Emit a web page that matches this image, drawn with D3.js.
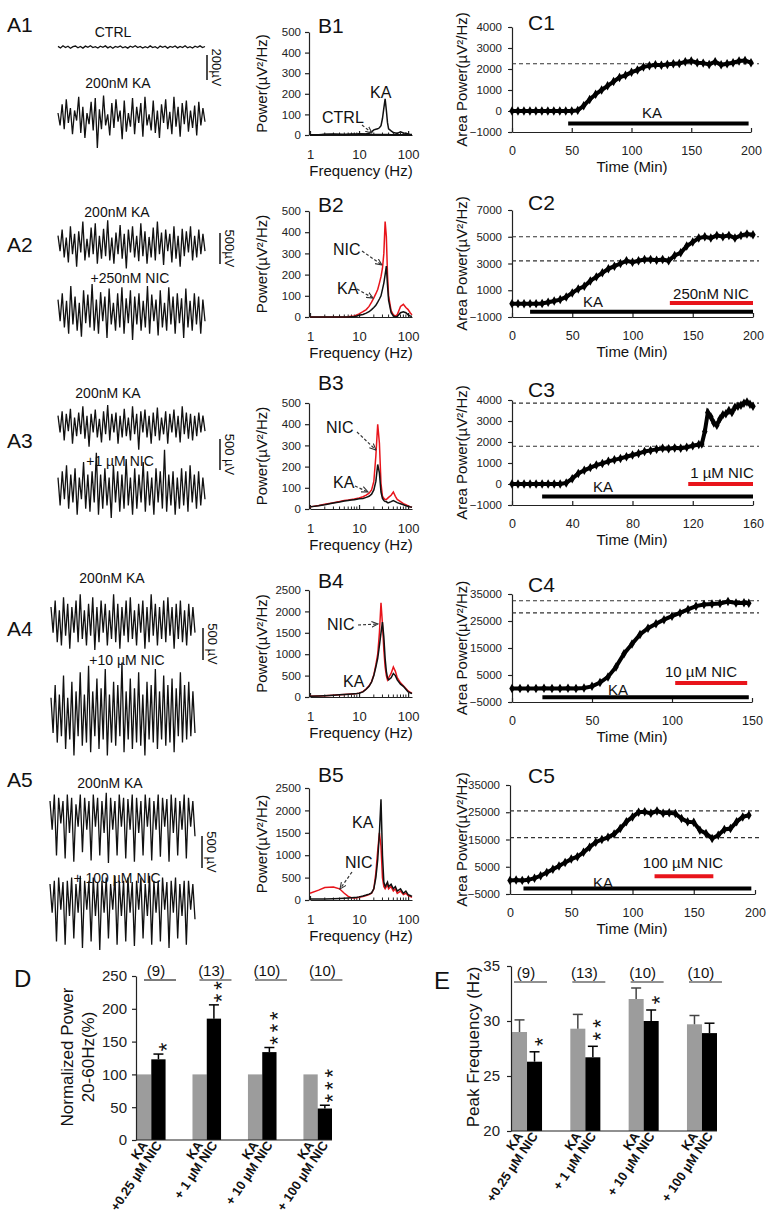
<!DOCTYPE html>
<html>
<head>
<meta charset="utf-8">
<script src="https://cdn.jsdelivr.net/npm/d3@7/dist/d3.min.js"></script>
<style>
body { margin: 0; background: #fff; }
svg { font-family: "Liberation Sans", Arial, sans-serif; }
</style>
</head>
<body>
<div id="chart"></div>
<script>
//------------------------- DATA -------------------------\\
// A: raw field potential traces (µV)
var traceA1Ctrl = [5,-8,10,-4,6,-10,3,8,-6,4,-9,7,-3,10,-5,2,-8,6,-2,9,-7,4,-10,5,-3,8,-6,3,-9,6,-2,10,-4,5,-8,3,-6,9,-5,2,-10,7,-3,6,-9,4,-2,8,-7,5,-4,10,-6,3,-8,6,-2,9,-5,4];
var traceA1Ka = [40,-60,110,-90,150,-40,80,-130,60,-20,170,-120,90,-160,40,-50,130,-100,160,-240,70,-90,180,-60,30,-140,120,-80,150,-30,60,-170,140,-110,40,-70,160,-130,90,-40,120,-150,170,-60,30,-100,140,-120,60,-160,110,-40,150,-90,50,-130,170,-70,90,-150,120,-50,140,-110,60,-80,100,-140,130,-60,80,-30];
var traceA2Ka = [150,-100,250,-200,120,-280,300,-150,180,-350,220,-120,380,-250,100,-200,280,-150,350,-300,150,-220,260,-180,400,-250,120,-300,200,-150,320,-220,180,-380,250,-120,300,-200,150,-260,350,-180,220,-300,130,-200,280,-250,380,-150,200,-320,250,-100,180,-280,300,-220,150,-350,260,-180,220,-120,300,-250,150,-200,250,-150,180,-100];
var traceA2Nic = [200,-150,300,-250,180,-350,420,-200,250,-300,150,-400,350,-180,280,-250,450,-300,200,-350,320,-150,250,-420,380,-200,150,-300,300,-250,400,-350,220,-180,350,-450,250,-200,300,-300,180,-250,420,-350,280,-150,200,-380,350,-250,150,-300,400,-200,250,-350,300,-180,220,-420,380,-250,180,-300,300,-200,250,-350,200,-150];
var traceA3Ka = [150,-120,220,-250,180,-100,260,-300,120,-180,200,-150,300,-220,150,-350,180,-120,250,-200,100,-280,220,-150,320,-250,180,-120,200,-300,150,-200,260,-180,120,-250,300,-150,180,-400,220,-120,250,-200,150,-300,200,-180,280,-250,120,-150,220,-300,180,-120,250,-200,150,-280,300,-150,200,-220,180,-250,150,-180,200,-120,150,-100];
var traceA3Nic = [200,-250,300,-150,400,-300,250,-200,350,-400,200,-150,450,-300,250,-350,300,-200,600,-400,250,-300,350,-250,200,-450,400,-200,300,-350,250,-300,500,-250,200,-400,350,-300,250,-200,450,-350,300,-250,200,-400,350,-200,300,-300,650,-350,250,-250,300,-400,200,-300,350,-250,300,-350,400,-200,250,-300,300,-250,200,-150];
var traceA4Ka = [250,-150,350,-300,200,-350,400,-200,300,-400,250,-150,350,-300,450,-250,200,-350,300,-200,400,-420,250,-300,350,-150,300,-350,200,-250,450,-300,300,-400,250,-200,350,-300,400,-250,200,-350,300,-150,350,-400,250,-300,450,-200,300,-350,250,-250,350,-300,400,-200,250,-400,300,-250,350,-300,200,-350,300,-200,250,-150];
var traceA4Nic = [300,-250,500,-400,350,-300,650,-500,300,-350,550,-600,400,-300,700,-450,350,-400,800,-550,400,-300,600,-500,450,-350,750,-600,350,-400,550,-450,500,-300,850,-550,400,-350,600,-500,450,-400,700,-450,350,-600,550,-350,500,-400,750,-500,400,-350,650,-450,500,-400,600,-550,450,-300,700,-400,500,-350,550,-300,400,-250];
var traceA5Ka = [250,-200,350,-600,300,-100,250,-650,350,-250,300,-700,200,-150,350,-550,300,-200,250,-680,350,-150,300,-600,250,-250,380,-720,300,-200,250,-600,350,-150,300,-650,280,-200,350,-700,300,-250,250,-600,350,-150,300,-680,250,-200,350,-620,300,-150,280,-700,350,-250,300,-600,250,-200,350,-650,300,-150,250,-300];
var traceA5Nic = [250,-200,300,-650,350,-150,280,-700,300,-250,350,-600,250,-200,380,-750,300,-150,300,-650,350,-250,280,-780,300,-200,350,-600,250,-150,380,-700,300,-250,300,-650,350,-200,280,-720,300,-150,350,-600,250,-250,380,-700,300,-200,300,-650,350,-150,280,-750,300,-200,350,-600,250,-250,300,-700,300,-150,250,-300];

// B: power spectra (µV²/Hz) on a shared frequency grid (Hz)
var specFreq  = [1,1.5,2,3,4,5,6,7,8,9,10,12,14,16,18,20,22,24,26,28,30,32,34,36,38,40,45,50,55,60,70,80,90,100,110,120];
var specB1Ctrl= [0,0,3,4,3,2,3,4,4,3,5,4,3,3,2,2,2,2,2,2,2,2,2,2,2,2,1,1,1,1,1,1,1,1,1,1];
var specB1Ka  = [0,0,2,3,2,3,2,3,3,4,4,5,6,8,15,25,28,30,35,45,80,130,175,120,60,30,20,12,10,8,15,10,8,5,3,2];
var specB2Ka  = [0,0,0,0,0,0,0,1,2,5,8,12,18,25,35,45,55,70,85,100,130,160,200,240,150,80,20,5,0,2,20,25,20,10,5,3];
var specB2Nic = [0,0,0,0,0,0,1,3,5,10,15,25,35,50,70,90,110,130,160,190,230,300,450,380,200,100,30,10,5,10,50,60,45,35,20,10];
var specB3Ka  = [10,15,20,28,33,38,40,42,44,46,48,50,55,60,70,90,130,210,170,80,50,40,35,35,30,30,35,40,35,30,25,20,15,12,10,8];
var specB3Nic = [10,16,22,30,35,40,42,45,47,50,52,58,65,75,90,130,250,400,310,120,60,50,45,45,50,55,65,80,60,45,35,25,20,15,10,8];
var specB4Ka  = [20,25,30,40,50,60,65,70,75,80,90,120,180,250,350,500,700,900,1200,1500,1750,1400,900,600,450,400,450,550,500,400,300,250,180,120,100,80];
var specB4Nic = [20,25,30,40,50,60,65,70,75,80,90,125,190,260,360,520,750,1000,1500,2200,1700,1100,700,500,400,450,550,700,600,450,330,260,200,140,110,90];
var specB5Ka  = [20,20,25,30,35,40,45,50,55,60,70,90,110,130,160,250,500,900,1500,2250,1000,400,300,350,400,300,350,250,300,200,250,150,200,120,100,80];
var specB5Nic = [150,220,280,290,250,150,80,50,45,50,60,80,100,120,150,250,600,1100,1500,1200,500,300,250,300,350,250,300,200,250,150,200,120,150,100,80,60];

// C: area power (µV²/Hz) against time (min)
var c1Time  = [0,5,10,15,20,25,30,35,40,45,50,55,60,65,70,75,80,85,90,95,100,105,110,115,120,125,130,135,140,145,150,155,160,165,170,175,180,185,190,195,200];
var c1Power = [0,0,0,0,0,0,0,0,0,0,0,30,250,550,800,1000,1200,1400,1600,1700,1850,1950,2100,2150,2200,2180,2220,2250,2260,2350,2380,2300,2280,2220,2350,2200,2250,2300,2380,2400,2300];
var c2Time  = c1Time;
var c2Power = [0,0,-10,0,0,10,100,200,300,500,800,1100,1300,1700,2000,2300,2600,2800,3000,3200,3100,3200,3300,3300,3250,3300,3200,3600,3800,4300,4600,4900,5000,4900,5100,5000,5100,4900,5100,5200,5150];
var c3Time  = [0,4,8,12,16,20,24,28,32,36,40,44,48,52,56,60,64,68,72,76,80,84,88,92,96,100,104,108,112,116,120,124,126,128,130,132,134,136,138,140,142,144,146,148,150,152,154,156,158,160];
var c3Power = [0,0,0,0,0,0,0,0,0,50,250,500,650,780,900,980,1080,1150,1220,1300,1380,1450,1550,1600,1650,1700,1680,1720,1700,1750,1820,1880,1900,2500,3400,3200,2900,2800,3100,3300,3350,3500,3400,3650,3700,3750,3850,3900,3800,3700];
var c4Time  = [0,5,10,15,20,25,30,35,40,45,50,55,60,65,70,75,80,85,90,95,100,105,110,115,120,125,130,135,140,145,148];
var c4Power = [0,0,0,0,100,0,0,100,0,200,800,2200,4300,8000,12900,16500,20000,22300,24000,25500,26800,28000,29300,30500,31100,31300,31500,32200,31700,31800,31600];
var c5Time  = [0,5,10,15,20,25,30,35,40,45,50,55,60,65,70,75,80,85,90,95,100,105,110,115,120,125,130,135,140,145,150,155,160,165,170,175,180,185,190,195];
var c5Power = [0,100,0,200,800,1700,2900,4100,5300,6600,7800,8700,10300,12200,14000,15000,15800,17000,19000,21500,23300,25000,25200,24600,25500,24600,24800,24500,22700,21500,21300,18400,17200,15400,16600,18700,19000,21500,23300,23900];
// reference levels (dashed) and drug application bars [start, end, level]
var c1Levels = [2250],         c1KaBar = [47,198,-600],   c1NicBar = null;
var c2Levels = [5000,3200],    c2KaBar = [15,200,-600],   c2NicBar = [131,200,50];
var c3Levels = [3850,1800],    c3KaBar = [20,160,-600],   c3NicBar = [117,160,0];
var c4Levels = [32500,28000],  c4KaBar = [19,148,-3200],  c4NicBar = [102,147,2000];
var c5Levels = [25500,15700],  c5KaBar = [11,197,-3000],  c5NicBar = [118,166,1500];

// D, E: summary bars
var groups      = ["+0.25 µM NIC", "+ 1 µM NIC", "+ 10 µM NIC", "+ 100 µM NIC"];
var groupN      = ["(9)", "(13)", "(10)", "(10)"];
var powerKa     = [100, 100, 100, 100];
var powerNic    = [123, 185, 134, 48];
var powerNicErr = [8, 21, 7, 5];
var powerStars  = ["*", "**", "***", "***"];
var freqKa      = [29.0, 29.3, 32.0, 29.7];
var freqKaErr   = [1.1, 1.3, 1.0, 0.8];
var freqNic     = [26.3, 26.7, 30.0, 28.9];
var freqNicErr  = [0.9, 1.0, 1.0, 0.9];
var freqStars   = ["*", "**", "*", ""];

var RED = "#e8141b";

var svg = d3.select("#chart")
    .append("svg")
    .attr("width", 771)
    .attr("height", 1225);

var defs = svg.append("defs");
defs.append("marker")
    .attr("id", "arrow")
    .attr("viewBox", "0 0 10 10")
    .attr("refX", 9).attr("refY", 5)
    .attr("markerWidth", 6).attr("markerHeight", 6)
    .attr("orient", "auto")
    .append("path")
    .attr("d", "M0,1 L9,5 L0,9")
    .attr("fill", "none")
    .attr("stroke", "#333")
    .attr("stroke-width", 1.5);

function label(x, y, txt, size, opts) {
    opts = opts || {};
    return svg.append("text")
        .attr("x", x).attr("y", y)
        .attr("text-anchor", opts.anchor || "start")
        .attr("font-size", size)
        .attr("font-weight", opts.bold ? "700" : "400")
        .attr("fill", opts.fill || "#111")
        .text(txt);
}

//------------------------- A: TRACES -------------------------\\
function drawTrace(values, x0, x1, yc, pxPerUV) {
    var x = d3.scaleLinear().domain([0, values.length - 1]).range([x0, x1]);
    var y = d3.scaleLinear().domain([0, 100]).range([yc, yc - 100 * pxPerUV]);
    svg.append("path")
        .datum(values)
        .attr("fill", "none")
        .attr("stroke", "#111")
        .attr("stroke-width", 1.3)
        .attr("d", d3.line().x((d, i) => x(i)).y(d => y(d)));
}

function scaleBar(x, y0, uv, pxPerUV, txt) {
    var y = d3.scaleLinear().domain([0, uv]).range([y0, y0 - uv * pxPerUV]);
    svg.append("line")
        .attr("x1", x).attr("x2", x)
        .attr("y1", y(0)).attr("y2", y(uv))
        .attr("stroke", "#111").attr("stroke-width", 1.5);
    svg.append("text")
        .attr("transform", "translate(" + (x + 5) + "," + (y(uv / 2)) + ") rotate(90)")
        .attr("text-anchor", "middle")
        .attr("font-size", 13)
        .attr("fill", "#111")
        .text(txt);
}

var aRows = [
    { name: "A1", ly: 32,  t1: traceA1Ctrl, t2: traceA1Ka, x0: 58, x1: 205, y1: 47,  y2: 118, k: 0.125,
      l1: "CTRL", l1x: 113, l1y: 37, l2: "200nM KA", l2x: 118, l2y: 88, bar: [207, 80, 200, "200µV"] },
    { name: "A2", ly: 252, t1: traceA2Ka, t2: traceA2Nic, x0: 58, x1: 205, y1: 245, y2: 312, k: 0.062,
      l1: "200nM KA", l1x: 117, l1y: 217, l2: "+250nM NIC", l2x: 130, l2y: 283, bar: [220, 264, 500, "500µV"] },
    { name: "A3", ly: 448, t1: traceA3Ka, t2: traceA3Nic, x0: 58, x1: 205, y1: 425, y2: 490, k: 0.062,
      l1: "200nM KA", l1x: 108, l1y: 398, l2: "+1 µM NIC", l2x: 120, l2y: 466, bar: [220, 470, 500, "500 µV"] },
    { name: "A4", ly: 636, t1: traceA4Ka, t2: traceA4Nic, x0: 51, x1: 195, y1: 623, y2: 717, k: 0.064,
      l1: "200nM KA", l1x: 112, l1y: 583, l2: "+10 µM NIC", l2x: 127, l2y: 665, bar: [203, 660, 500, "500 µV"] },
    { name: "A5", ly: 787, t1: traceA5Ka, t2: traceA5Nic, x0: 50, x1: 195, y1: 817, y2: 900, k: 0.064,
      l1: "200nM KA", l1x: 110, l1y: 788, l2: "+ 100 µM NIC", l2x: 117, l2y: 883, bar: [202, 868, 500, "500 µV"] }
];

aRows.forEach(function (r) {
    label(7, r.ly, r.name, 21);
    drawTrace(r.t1, r.x0, r.x1, r.y1, r.k);
    drawTrace(r.t2, r.x0, r.x1, r.y2, r.k);
    label(r.l1x, r.l1y, r.l1, 14, { anchor: "middle" });
    label(r.l2x, r.l2y, r.l2, 14, { anchor: "middle" });
    scaleBar(r.bar[0], r.bar[1], r.bar[2], r.k, r.bar[3]);
});

//------------------------- B: SPECTRA -------------------------\\
var bPanels = [
    { name: "B1", ty: 33,  top: 32,  bottom: 135, max: 500,  step: 100, ka: specB1Ka, nic: null, ctrl: specB1Ctrl,
      notes: [["CTRL", 322, 123, [362,125,372,133]], ["KA", 370, 98, null]] },
    { name: "B2", ty: 212, top: 211, bottom: 317, max: 500,  step: 100, ka: specB2Ka, nic: specB2Nic,
      notes: [["NIC", 333, 255, [362,251,382,265]], ["KA", 337, 294, [357,289,373,298]]] },
    { name: "B3", ty: 390, top: 403, bottom: 509, max: 500,  step: 100, ka: specB3Ka, nic: specB3Nic,
      notes: [["NIC", 326, 433, [357,432,376,450]], ["KA", 333, 488, [355,486,368,492]]] },
    { name: "B4", ty: 588, top: 590, bottom: 697, max: 2500, step: 500, ka: specB4Ka, nic: specB4Nic,
      notes: [["NIC", 327, 630, [358,625,378,624]], ["KA", 343, 687, null]] },
    { name: "B5", ty: 782, top: 788, bottom: 900, max: 2500, step: 500, ka: specB5Ka, nic: specB5Nic,
      notes: [["KA", 352, 828, null], ["NIC", 345, 868, [352,872,340,889]]] }
];

bPanels.forEach(function (p) {
    var x = d3.scaleLog().domain([1, 120]).range([310, 412]);
    var y = d3.scaleLinear().domain([0, p.max]).range([p.bottom, p.top]);
    var g = svg.append("g");

    label(318, p.ty, p.name, 21);

    var ya = g.append("g")
        .attr("transform", "translate(309,0)")
        .call(d3.axisLeft(y).tickValues(d3.range(0, p.max + 1, p.step)).tickFormat(d3.format("d"))
            .tickSize(4).tickPadding(4).tickSizeOuter(0));
    ya.selectAll("text").attr("font-size", 11.5).attr("fill", "#222").style("font-family", "inherit");

    var minor = [];
    [1, 10].forEach(function (dec) { for (var m = 2; m <= 9; m++) minor.push(dec * m); });
    var xa = g.append("g")
        .attr("transform", "translate(0," + p.bottom + ")")
        .call(d3.axisBottom(x).tickValues([1, 10, 100]).tickFormat(d3.format("d")).tickSize(-4).tickPadding(15).tickSizeOuter(0));
    xa.selectAll("text").attr("font-size", 13).attr("fill", "#222").style("font-family", "inherit");
    g.selectAll(".minor")
        .data(minor)
        .join("line")
        .attr("x1", d => x(d)).attr("x2", d => x(d))
        .attr("y1", p.bottom).attr("y2", p.bottom - 2.5)
        .attr("stroke", "#222");
    g.selectAll(".domain, .tick line").attr("stroke", "#222").attr("stroke-width", 1.2);

    label(361, p.bottom + 41, "Frequency (Hz)", 15, { anchor: "middle" });
    svg.append("text")
        .attr("transform", "translate(267," + ((p.top + p.bottom) / 2) + ") rotate(-90)")
        .attr("text-anchor", "middle")
        .attr("font-size", 15)
        .attr("fill", "#111")
        .text("Power(µV²/Hz)");

    var line = d3.line().x((d, i) => x(specFreq[i])).y(d => y(d));
    if (p.ctrl) g.append("path").datum(p.ctrl).attr("fill", "none").attr("stroke", "#111").attr("stroke-width", 1.8).attr("d", line);
    if (p.nic) g.append("path").datum(p.nic).attr("fill", "none").attr("stroke", RED).attr("stroke-width", 1.5).attr("d", line);
    g.append("path").datum(p.ka).attr("fill", "none").attr("stroke", "#111").attr("stroke-width", 1.5).attr("d", line);

    p.notes.forEach(function (n) {
        label(n[1], n[2], n[0], 16);
        if (n[3]) {
            svg.append("line")
                .attr("x1", n[3][0]).attr("y1", n[3][1])
                .attr("x2", n[3][2]).attr("y2", n[3][3])
                .attr("stroke", "#333").attr("stroke-width", 1.2)
                .attr("stroke-dasharray", "3,2")
                .attr("marker-end", "url(#arrow)");
        }
    });
});

//------------------------- C: TIME COURSES -------------------------\\
var cPanels = [
    { name: "C1", ty: 30,  t: c1Time, v: c1Power, xd: [0, 200], xr: [512, 751], xt: [0,50,100,150,200],
      yd: [-1000, 4000], yr: [132, 27], yt: [-1000,0,1000,2000,3000,4000], levels: c1Levels, ka: c1KaBar, nic: c1NicBar,
      kaText: [652, 118], nicText: null },
    { name: "C2", ty: 210, t: c2Time, v: c2Power, xd: [0, 200], xr: [512, 753], xt: [0,50,100,150,200],
      yd: [-1000, 7000], yr: [317, 210], yt: [-1000,1000,3000,5000,7000], levels: c2Levels, ka: c2KaBar, nic: c2NicBar,
      kaText: [593, 307], nicText: ["250nM NIC", 711, 299] },
    { name: "C3", ty: 397, t: c3Time, v: c3Power, xd: [0, 160], xr: [512, 753], xt: [0,40,80,120,160],
      yd: [-1000, 4000], yr: [505, 400], yt: [-1000,0,1000,2000,3000,4000], levels: c3Levels, ka: c3KaBar, nic: c3NicBar,
      kaText: [603, 492], nicText: ["1 µM NIC", 722, 478] },
    { name: "C4", ty: 592, t: c4Time, v: c4Power, xd: [0, 150], xr: [512, 752], xt: [0,50,100,150],
      yd: [-5000, 35000], yr: [702, 594], yt: [-5000,5000,15000,25000,35000], levels: c4Levels, ka: c4KaBar, nic: c4NicBar,
      kaText: [618, 695], nicText: ["10 µM NIC", 701, 677] },
    { name: "C5", ty: 783, t: c5Time, v: c5Power, xd: [0, 200], xr: [510, 755], xt: [0,50,100,150,200],
      yd: [-5000, 35000], yr: [894, 785], yt: [-5000,5000,15000,25000,35000], levels: c5Levels, ka: c5KaBar, nic: c5NicBar,
      kaText: [603, 888], nicText: ["100 µM NIC", 683, 868] }
];

cPanels.forEach(function (p) {
    var x = d3.scaleLinear().domain(p.xd).range(p.xr);
    var y = d3.scaleLinear().domain(p.yd).range(p.yr);
    var g = svg.append("g");
    var x0 = p.xr[0];

    label(528, p.ty, p.name, 21);

    var ya = g.append("g")
        .attr("transform", "translate(" + x0 + ",0)")
        .call(d3.axisLeft(y).tickValues(p.yt).tickFormat(d3.format("d")).tickSize(4).tickPadding(6).tickSizeOuter(0));
    ya.selectAll("text").attr("font-size", 11.5).attr("fill", "#222").style("font-family", "inherit");
    var xa = g.append("g")
        .attr("transform", "translate(0," + p.yr[0] + ")")
        .call(d3.axisBottom(x).tickValues(p.xt).tickSize(-4).tickPadding(14).tickSizeOuter(0));
    xa.selectAll("text").attr("font-size", 12.5).attr("fill", "#222").style("font-family", "inherit");
    g.selectAll(".domain, .tick line").attr("stroke", "#222").attr("stroke-width", 1.2);

    label(632, p.yr[0] + 40, "Time (Min)", 15, { anchor: "middle" });
    svg.append("text")
        .attr("transform", "translate(467," + ((p.yr[0] + p.yr[1]) / 2) + ") rotate(-90)")
        .attr("text-anchor", "middle")
        .attr("font-size", 15)
        .attr("fill", "#111")
        .text("Area Power(µV²/Hz)");

    g.selectAll(".level")
        .data(p.levels)
        .join("line")
        .attr("x1", x0).attr("x2", 759)
        .attr("y1", d => y(d)).attr("y2", d => y(d))
        .attr("stroke", "#333").attr("stroke-width", 1.1)
        .attr("stroke-dasharray", "4,3");

    g.append("line")
        .attr("x1", x(p.ka[0])).attr("x2", x(p.ka[1]))
        .attr("y1", y(p.ka[2])).attr("y2", y(p.ka[2]))
        .attr("stroke", "#000").attr("stroke-width", 4);
    if (p.nic) {
        g.append("line")
            .attr("x1", x(p.nic[0])).attr("x2", x(p.nic[1]))
            .attr("y1", y(p.nic[2])).attr("y2", y(p.nic[2]))
            .attr("stroke", RED).attr("stroke-width", 4);
    }

    var pts = p.t.map((t, i) => [t, p.v[i]]);
    g.append("path")
        .datum(pts)
        .attr("fill", "none")
        .attr("stroke", "#000")
        .attr("stroke-width", 4)
        .attr("d", d3.line().x(d => x(d[0])).y(d => y(d[1])));
    g.selectAll(".pt")
        .data(pts)
        .join("path")
        .attr("transform", d => "translate(" + x(d[0]) + "," + y(d[1]) + ")")
        .attr("d", d3.symbol(d3.symbolDiamond, 26))
        .attr("fill", "#000");

    label(p.kaText[0], p.kaText[1], "KA", 15, { anchor: "middle" });
    if (p.nicText) label(p.nicText[1], p.nicText[2], p.nicText[0], 15, { anchor: "middle" });
});

//------------------------- D & E: SUMMARY BARS -------------------------\\
function drawSummary(cfg) {
    var y = d3.scaleLinear().domain(cfg.yd).range(cfg.yr);
    var xg = d3.scaleBand().domain(groups).range(cfg.xr).paddingInner(0.485);
    var xb = d3.scaleBand().domain(["KA", "NIC"]).range([0, xg.bandwidth()]);
    var base = cfg.yr[0];
    var g = svg.append("g");

    label(cfg.labelPos[0], cfg.labelPos[1], cfg.name, 24);

    groups.forEach(function (grp, i) {
        var gx = xg(grp);
        var bars = [
            { key: "KA",  v: cfg.ka[i],  e: cfg.kaErr ? cfg.kaErr[i] : 0, c: "#9c9c9c", ec: "#444" },
            { key: "NIC", v: cfg.nic[i], e: cfg.nicErr[i], c: "#000", ec: "#000" }
        ];
        bars.forEach(function (b) {
            var bx = gx + xb(b.key);
            g.append("rect")
                .attr("x", bx).attr("y", y(b.v))
                .attr("width", xb.bandwidth()).attr("height", base - y(b.v))
                .attr("fill", b.c);
            if (b.e > 0) {
                var cx = bx + xb.bandwidth() / 2;
                g.append("line").attr("x1", cx).attr("x2", cx).attr("y1", y(b.v)).attr("y2", y(b.v + b.e))
                    .attr("stroke", b.ec).attr("stroke-width", 1.5);
                g.append("line").attr("x1", cx - 5).attr("x2", cx + 5).attr("y1", y(b.v + b.e)).attr("y2", y(b.v + b.e))
                    .attr("stroke", b.ec).attr("stroke-width", 1.5);
            }
            var lx = bx + xb.bandwidth() / 2 + 4;
            svg.append("text")
                .attr("transform", "translate(" + lx + "," + (base + 5) + ") rotate(-56)")
                .attr("text-anchor", "end")
                .attr("font-size", 13)
                .attr("font-weight", "700")
                .attr("fill", "#111")
                .text(b.key === "KA" ? "KA" : grp);
        });

        // significance stars stacked upward above the NIC bar (one rotated text per group)
        var stars = cfg.stars[i];
        if (stars.length) {
            var top = y(cfg.nic[i] + cfg.nicErr[i]);
            var sx = gx + xb("NIC") + xb.bandwidth() / 2 + cfg.starDx;
            svg.append("text")
                .attr("transform", "translate(" + (sx + 12.5) + "," + (top - cfg.starLift + 4.3) + ") rotate(-90)")
                .attr("font-size", 22)
                .attr("letter-spacing", cfg.starGap - 8.6)
                .attr("fill", "#111")
                .text(stars);
        }

        // n counts with underline
        label(gx + cfg.nDx, cfg.nY, cfg.n[i], 15, { anchor: "middle" });
        g.append("line")
            .attr("x1", gx + cfg.lineX[0]).attr("x2", gx + cfg.lineX[1])
            .attr("y1", cfg.nY + 4).attr("y2", cfg.nY + 4)
            .attr("stroke", "#222").attr("stroke-width", 1.2);
    });

    var ya = g.append("g")
        .attr("transform", "translate(" + (cfg.xr[0] - 1) + ",0)")
        .call(d3.axisLeft(y).tickValues(cfg.yt).tickSize(4).tickPadding(cfg.tickPad).tickSizeOuter(0));
    ya.selectAll("text").attr("font-size", 15).attr("fill", "#222").style("font-family", "inherit");
    g.append("line")
        .attr("x1", cfg.xr[0] - 1).attr("x2", cfg.xr[1])
        .attr("y1", base).attr("y2", base)
        .attr("stroke", "#222").attr("stroke-width", 1.2);
    g.selectAll(".domain, .tick line").attr("stroke", "#222").attr("stroke-width", 1.2);

    cfg.yLabel.forEach(function (t, k) {
        svg.append("text")
            .attr("transform", "translate(" + cfg.yLabelX[k] + "," + cfg.yLabelY + ") rotate(-90)")
            .attr("text-anchor", "middle")
            .attr("font-size", 17)
            .attr("fill", "#111")
            .text(t);
    });
}

drawSummary({
    name: "D", labelPos: [14, 987],
    yd: [0, 250], yr: [1140, 976], yt: [0, 50, 100, 150, 200, 250], xr: [137, 332], tickPad: 5,
    ka: powerKa, kaErr: null, nic: powerNic, nicErr: powerNicErr, stars: powerStars,
    starDx: 3, starLift: 7, starGap: 12.5,
    n: groupN, nDx: 19, nY: 976, lineX: [7, 39],
    yLabel: ["Normalized Power", "20-60Hz(%)"], yLabelX: [73, 94], yLabelY: 1057
});

drawSummary({
    name: "E", labelPos: [434, 989],
    yd: [20, 35], yr: [1131, 966], yt: [20, 25, 30, 35], xr: [512, 717], tickPad: 7,
    ka: freqKa, kaErr: freqKaErr, nic: freqNic, nicErr: freqNicErr, stars: freqStars,
    starDx: 3, starLift: 10, starGap: 13,
    n: groupN, nDx: 14, nY: 978, lineX: [2, 35],
    yLabel: ["Peak Frequency (Hz)"], yLabelX: [479], yLabelY: 1047
});
</script>
</body>
</html>
